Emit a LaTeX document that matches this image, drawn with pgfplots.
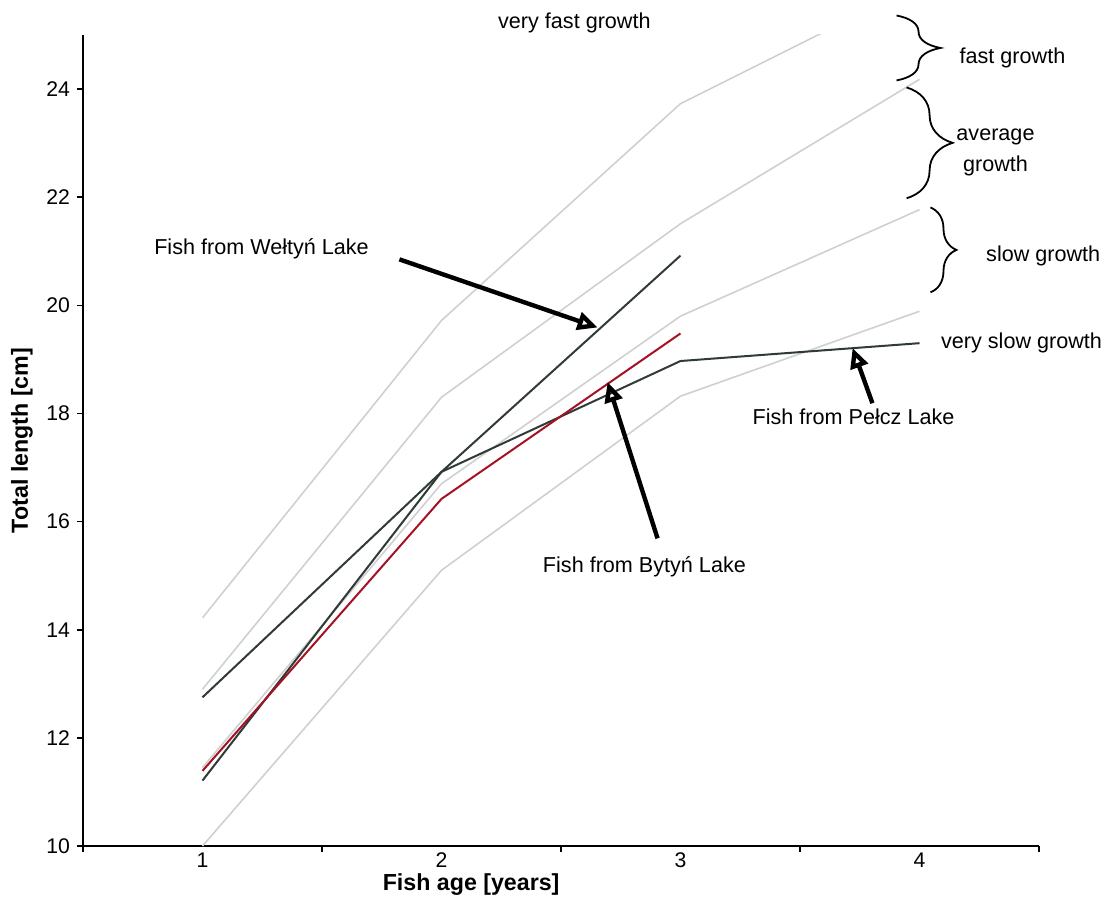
\documentclass[border=0pt]{standalone}
\usepackage{fontspec}
\setmainfont{Liberation Sans}
\usepackage{pgfplots}
\pgfplotsset{compat=1.18}
\usetikzlibrary{arrows.meta,decorations.pathreplacing}
\definecolor{refgrey}{RGB}{208,208,208}
\definecolor{darkline}{RGB}{48,58,54}
\definecolor{redline}{RGB}{165,18,36}
\begin{document}
\begin{tikzpicture}
\begin{axis}[
  scale only axis,
  width=478pt, height=405.5pt,
  xmin=0.5, xmax=4.5, ymin=10, ymax=25,
  axis x line*=bottom, axis y line*=left,
  axis line style={line width=0.8pt},
  clip mode=individual,
  xtick={0.5,1.5,2.5,3.5,4.5}, xticklabels={},
  extra x ticks={1,2,3,4}, extra x tick labels={1,2,3,4},
  extra x tick style={major tick length=0pt},
  ytick={10,12,14,16,18,20,22,24},
  tick align=outside, major tick length=3pt,
  tick style={line width=0.8pt, black},
  /pgf/number format/assume math mode=true,
  tick label style={font=\fontsize{10.6}{12}\selectfont},
  xlabel={\textbf{Fish age [years]}},
  ylabel={\textbf{Total length [cm]}},
  label style={font=\fontsize{11.6}{13}\selectfont},
  xlabel style={at={(axis description cs:0.406,-0.048)}, anchor=center},
  ylabel style={at={(axis description cs:-0.064,0.5)}, anchor=center, rotate=0},
]
% reference growth curves
\addplot[refgrey, line width=0.8pt] coordinates {(1,14.22) (2,19.72) (3,23.73) (4,25.94)};
\addplot[refgrey, line width=0.8pt] coordinates {(1,12.90) (2,18.30) (3,21.51) (4,24.18)};
\addplot[refgrey, line width=0.8pt] coordinates {(1,11.45) (2,16.70) (3,19.80) (4,21.77)};
\addplot[refgrey, line width=0.8pt] coordinates {(1,10.00) (2,15.10) (3,18.32) (4,19.89)};
% lakes
\addplot[darkline, line width=1pt] coordinates {(1,12.75) (2,16.92) (3,18.97) (4,19.30)};
\addplot[darkline, line width=1pt] coordinates {(1,11.21) (2,16.92) (3,20.92)};
\addplot[redline, line width=1pt] coordinates {(1,11.39) (2,16.42) (3,19.48)};
% arrows
\draw[line width=2.2pt, -{Triangle[open,length=10pt,width=9pt]}] (axis cs:1.824,20.85) -- (axis cs:2.653,19.59);
\draw[line width=2.2pt, -{Triangle[open,length=10pt,width=9pt]}] (axis cs:2.904,15.69) -- (axis cs:2.695,18.58);
\draw[line width=2.2pt, -{Triangle[open,length=10pt,width=9pt]}] (axis cs:3.803,18.19) -- (axis cs:3.720,19.21);
% braces
\draw[line width=0.9pt, decorate, decoration={brace, amplitude=22pt, aspect=0.5}] (axis cs:3.904,25.36) -- (axis cs:3.904,24.16);
\draw[line width=0.9pt, decorate, decoration={brace, amplitude=23pt, aspect=0.5}] (axis cs:3.946,24.03) -- (axis cs:3.946,21.98);
\draw[line width=0.9pt, decorate, decoration={brace, amplitude=13pt, aspect=0.5}] (axis cs:4.046,21.81) -- (axis cs:4.046,20.24);
% texts
\begin{scope}[every node/.style={font=\fontsize{10.8}{12.5}\selectfont, inner sep=0pt}]
\node at (axis cs:2.556,25.23) {very fast growth};
\node at (axis cs:4.389,24.58) {fast growth};
\node[align=center] at (axis cs:4.318,22.83) {average\\[3pt]growth};
\node[anchor=east] at (axis cs:4.758,20.91) {slow growth};
\node at (axis cs:4.427,19.30) {very slow growth};
\node at (axis cs:1.247,21.04) {Fish from Wełtyń Lake};
\node at (axis cs:2.849,15.16) {Fish from Bytyń Lake};
\node at (axis cs:3.724,17.93) {Fish from Pełcz Lake};
\end{scope}
\end{axis}
\pgfresetboundingbox
\path (-41.5pt,-29.5pt) rectangle (510pt,423pt);
\end{tikzpicture}
\end{document}
